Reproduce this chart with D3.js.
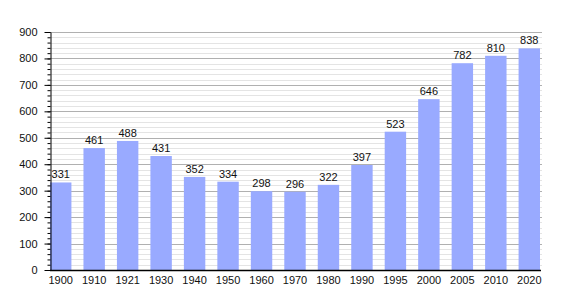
<!DOCTYPE html>
<html>
<head>
<meta charset="utf-8">
<script src="https://cdn.jsdelivr.net/npm/d3@7"></script>
<style>
  body { margin: 0; background: #fff; }
  text { font-family: "Liberation Sans", Arial, sans-serif; }
</style>
</head>
<body>
<svg id="chart" width="570" height="300"></svg>
<script>
let years = ["1900", "1910", "1921", "1930", "1940", "1950", "1960", "1970", "1980", "1990", "1995", "2000", "2005", "2010", "2020"];
let population = [331, 461, 488, 431, 352, 334, 298, 296, 322, 397, 523, 646, 782, 810, 838];
let yTicks = [0, 100, 200, 300, 400, 500, 600, 700, 800, 900];

function drawChart() {
    let canvas = d3.select("#chart");

    let left = 50;
    let right = 540;
    let top = 32;
    let bottom = 270;

    let x = d3.scaleBand()
        .domain(years)
        .range([left, right])
        .paddingInner(0.36)
        .paddingOuter(0)
        .align(0);
    let y = d3.scaleLinear()
        .domain([0, 900])
        .range([bottom, top]);

    // minor grid
    canvas.append("g")
        .selectAll("line")
        .data(d3.range(0, 901, 20).filter(d => d % 100 != 0))
        .enter()
        .append("line")
        .attr("x1", left)
        .attr("x2", right + 2)
        .attr("y1", d => Math.round(y(d)) + 0.5)
        .attr("y2", d => Math.round(y(d)) + 0.5)
        .attr("stroke", "#e4e4e4")
        .attr("stroke-width", 1);

    // major grid
    canvas.append("g")
        .selectAll("line")
        .data(yTicks.filter(d => d > 0))
        .enter()
        .append("line")
        .attr("x1", left)
        .attr("x2", right + 2)
        .attr("y1", d => Math.round(y(d)) + 0.5)
        .attr("y2", d => Math.round(y(d)) + 0.5)
        .attr("stroke", "#b0b0b0")
        .attr("stroke-width", 1);

    canvas.selectAll(".bar")
        .data(population)
        .enter()
        .append("rect")
        .attr("class", "bar")
        .attr("x", (d, i) => x(years[i]))
        .attr("width", x.bandwidth())
        .attr("y", d => y(d))
        .attr("height", d => bottom - y(d))
        .style("fill", "#99aaff");

    canvas.selectAll(".val")
        .data(population)
        .enter()
        .append("text")
        .attr("class", "val")
        .attr("x", (d, i) => x(years[i]) + x.bandwidth() / 2)
        .attr("y", d => y(d) - 4)
        .attr("text-anchor", "middle")
        .attr("font-size", "11px")
        .attr("fill", "#111")
        .text(d => d);

    // y axis with minor ticks
    let yAxisMinor = d3.axisLeft(y)
        .tickValues(d3.range(0, 901, 20))
        .tickSize(3)
        .tickFormat("");
    canvas.append("g")
        .attr("transform", "translate(" + (left + 0.5) + ",0)")
        .call(yAxisMinor)
        .call(g => g.select(".domain").remove());

    let yAxis = d3.axisLeft(y)
        .tickValues(yTicks)
        .tickSize(6)
        .tickSizeOuter(0)
        .tickPadding(7);
    canvas.append("g")
        .attr("transform", "translate(" + (left + 0.5) + ",0)")
        .call(yAxis)
        .call(g => g.selectAll("text").attr("font-size", "11px").attr("fill", "#111").style("font-family", "Liberation Sans, Arial, sans-serif"));

    // x axis
    let xAxis = d3.axisBottom(x)
        .tickSize(0)
        .tickSizeOuter(0)
        .tickPadding(6);
    canvas.append("g")
        .attr("transform", "translate(0," + (bottom + 0.5) + ")")
        .call(xAxis)
        .call(g => g.select(".domain").attr("d", "M" + left + ",0H" + (right + 1)).attr("stroke-width", 1.5))
        .call(g => g.selectAll("text").attr("font-size", "11px").attr("fill", "#111").style("font-family", "Liberation Sans, Arial, sans-serif"));
}

drawChart();
</script>
</body>
</html>
